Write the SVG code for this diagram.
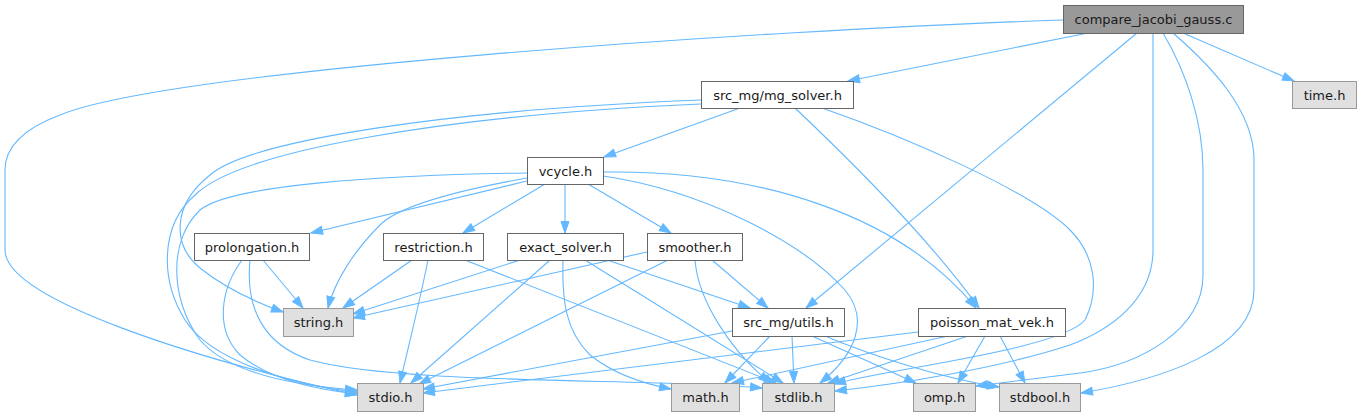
<svg xmlns="http://www.w3.org/2000/svg" width="1361" height="417" viewBox="0 0 1361 417">
<style>
.n rect{fill:#ffffff;stroke:#666666;stroke-width:1}
.l rect{fill:#e0e0e0;stroke:#999999;stroke-width:1}
.r rect{fill:#999999;stroke:#666666;stroke-width:1}
text{font-family:"DejaVu Sans","Liberation Sans",sans-serif;font-size:13px;fill:#1a1a1a;text-anchor:middle}
#edges path{fill:none;stroke:#63b8ff;stroke-width:1.1;marker-end:url(#a)}
</style>
<defs>
<marker id="a" markerWidth="14" markerHeight="10" refX="12.5" refY="5" orient="auto" markerUnits="userSpaceOnUse">
<path d="M1,1 L12.5,5 L1,9 z" fill="#63b8ff" stroke="#63b8ff" stroke-width="1"/>
</marker>
</defs>
<rect width="1361" height="417" fill="#ffffff"/>
<g id="edges">
<path d="M1063,20 C760,30 170,70 60,115 C20,130 5,150 5,170 L5,250 C5,300 200,360 357,395"/>
<path d="M1088,33 L848,81"/>
<path d="M1183,33 L1294,81"/>
<path d="M1137,33 L806,308"/>
<path d="M1153,33 L1153,250 C1153,300 1110,330 1070,345 C1000,368 900,384 835,391"/>
<path d="M1163,33 C1185,70 1203,120 1203,170 L1203,275 C1203,330 1140,365 1080,373 C1040,378 1000,383 976,386"/>
<path d="M1173,33 C1210,65 1254,110 1254,160 L1254,290 C1254,350 1160,380 1081,393"/>
<path d="M740,108 L604,157"/>
<path d="M795,108 C850,160 930,240 979,308"/>
<path d="M822,108 C900,135 1030,190 1070,230 C1095,255 1100,290 1085,320 C1060,350 880,370 834,384"/>
<path d="M701,100 C450,110 250,140 210,175 C172,205 172,245 200,268 C225,288 255,302 283,312"/>
<path d="M701,104 C450,115 240,150 195,195 C160,225 160,280 185,320 C210,360 290,385 357,392"/>
<path d="M527,173 C380,175 230,185 200,210 C168,240 170,300 200,340 C230,375 300,386 357,390"/>
<path d="M527,181 L311,233"/>
<path d="M527,178 C460,190 400,205 380,225 C355,250 335,280 328,308"/>
<path d="M545,184 L463,233"/>
<path d="M565,184 L565,233"/>
<path d="M588,184 L671,233"/>
<path d="M603,172 C760,170 900,215 976,308"/>
<path d="M603,176 C700,190 800,240 845,290 C870,320 855,355 820,383"/>
<path d="M263,260 L303,308"/>
<path d="M242,260 C220,290 215,330 240,355 C270,380 320,390 357,394"/>
<path d="M250,260 C245,310 265,345 310,360 C400,385 650,378 762,388"/>
<path d="M412,260 L343,308"/>
<path d="M428,260 C420,300 410,340 400,383"/>
<path d="M465,260 L776,383"/>
<path d="M520,260 L353,314"/>
<path d="M550,260 L411,383"/>
<path d="M563,260 C562,300 565,330 590,355 C615,375 645,384 671,389"/>
<path d="M585,260 L783,383"/>
<path d="M607,260 L750,308"/>
<path d="M647,252 L353,318"/>
<path d="M668,260 L419,384"/>
<path d="M712,260 L768,308"/>
<path d="M695,260 C698,300 730,350 770,383"/>
<path d="M732,331 L423,389"/>
<path d="M770,336 L725,383"/>
<path d="M792,336 L794,383"/>
<path d="M812,336 L916,383"/>
<path d="M825,336 C870,355 940,378 999,387"/>
<path d="M918,332 L423,393"/>
<path d="M948,336 L732,383"/>
<path d="M968,336 L828,383"/>
<path d="M985,336 L958,383"/>
<path d="M1000,336 L1025,383"/>
</g>
<g id="node-compare" class="r"><rect x="1063.5" y="5.5" width="180" height="28"/><text x="1153.5" y="24">compare_jacobi_gauss.c</text></g>
<g id="node-time" class="l"><rect x="1292.5" y="81.5" width="64" height="27"/><text x="1324.5" y="99.5">time.h</text></g>
<g id="node-mg_solver" class="n"><rect x="701.5" y="81.5" width="152" height="27"/><text x="777.5" y="99.5">src_mg/mg_solver.h</text></g>
<g id="node-vcycle" class="n"><rect x="527.5" y="157.5" width="76" height="27"/><text x="565.5" y="175.5">vcycle.h</text></g>
<g id="node-prolongation" class="n"><rect x="194.5" y="233.5" width="115" height="27"/><text x="252" y="251.5">prolongation.h</text></g>
<g id="node-restriction" class="n"><rect x="383.5" y="233.5" width="100" height="27"/><text x="433.5" y="251.5">restriction.h</text></g>
<g id="node-exact_solver" class="n"><rect x="507.5" y="233.5" width="116" height="27"/><text x="565.5" y="251.5">exact_solver.h</text></g>
<g id="node-smoother" class="n"><rect x="647.5" y="233.5" width="95" height="27"/><text x="695" y="251.5">smoother.h</text></g>
<g id="node-string" class="l"><rect x="283.5" y="308.5" width="70" height="28"/><text x="318.5" y="327">string.h</text></g>
<g id="node-utils" class="n"><rect x="732.5" y="308.5" width="112" height="28"/><text x="788.5" y="327">src_mg/utils.h</text></g>
<g id="node-poisson" class="n"><rect x="918.5" y="308.5" width="147" height="28"/><text x="992" y="327">poisson_mat_vek.h</text></g>
<g id="node-stdio" class="l"><rect x="357.5" y="383.5" width="66" height="28"/><text x="390.5" y="402">stdio.h</text></g>
<g id="node-math" class="l"><rect x="671.5" y="383.5" width="68" height="28"/><text x="705.5" y="402">math.h</text></g>
<g id="node-stdlib" class="l"><rect x="762.5" y="383.5" width="72" height="28"/><text x="798.5" y="402">stdlib.h</text></g>
<g id="node-omp" class="l"><rect x="913.5" y="383.5" width="62" height="28"/><text x="944.5" y="402">omp.h</text></g>
<g id="node-stdbool" class="l"><rect x="999.5" y="383.5" width="81" height="28"/><text x="1040" y="402">stdbool.h</text></g>
</svg>
